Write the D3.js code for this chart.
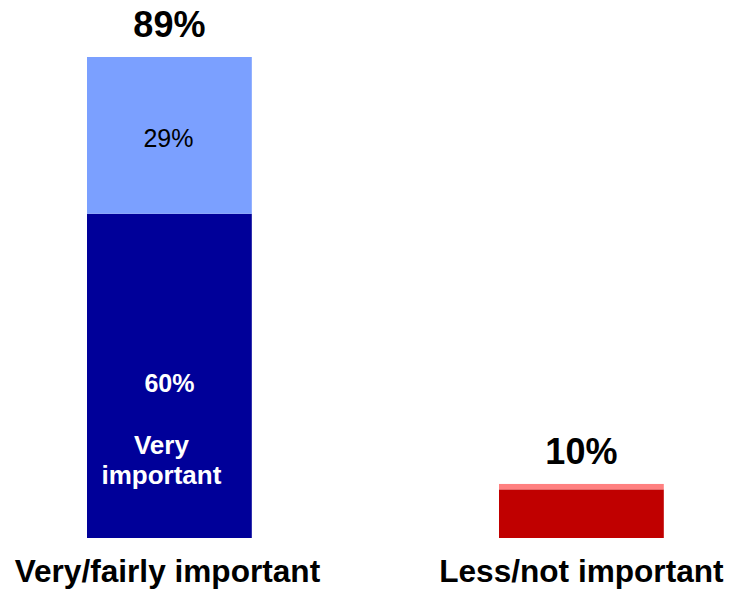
<!DOCTYPE html>
<html>
<head>
<meta charset="utf-8">
<script src="https://cdn.jsdelivr.net/npm/d3@7"></script>
<style>
  body { margin: 0; background: #fff; }
  svg { display: block; font-family: "Liberation Sans", Arial, sans-serif; }
</style>
</head>
<body>
<div class="container"></div>
<script>
// data
let categories = ["Very/fairly important", "Less/not important"];
let mainValues = [60, 9];   // very important / not at all
let restValues = [29, 1];   // fairly important / less important
let totals = [89, 10];
let mainColors = ["#000099", "#C00000"];
let restColors = ["#7BA0FF", "#FF8080"];

let width = 730, height = 595;

let svg = d3.select(".container")
    .append("svg")
    .attr("width", width)
    .attr("height", height);

let x = d3.scaleBand()
    .domain(categories)
    .range([-36.6, 787.4])
    .paddingInner(0.6)
    .paddingOuter(0.3);

let y = d3.scaleLinear()
    .domain([0, 89])
    .range([538, 57]);

// lower segment
svg.selectAll("rect.main")
    .data(categories)
    .enter().append("rect")
    .attr("class", "main")
    .attr("x", d => x(d))
    .attr("width", x.bandwidth())
    .attr("y", (d, i) => y(mainValues[i]))
    .attr("height", (d, i) => y(0) - y(mainValues[i]))
    .attr("fill", (d, i) => mainColors[i]);

// upper segment
svg.selectAll("rect.rest")
    .data(categories)
    .enter().append("rect")
    .attr("class", "rest")
    .attr("x", d => x(d))
    .attr("width", x.bandwidth())
    .attr("y", (d, i) => y(mainValues[i] + restValues[i]))
    .attr("height", (d, i) => y(mainValues[i]) - y(mainValues[i] + restValues[i]))
    .attr("fill", (d, i) => restColors[i]);

let cx = d => x(d) + x.bandwidth() / 2;

// totals above bars
svg.selectAll("text.total")
    .data(categories)
    .enter().append("text")
    .attr("class", "total")
    .attr("x", cx)
    .attr("y", (d, i) => y(totals[i]) - 20)
    .attr("text-anchor", "middle")
    .attr("font-size", 36)
    .attr("font-weight", "bold")
    .text((d, i) => totals[i] + "%");

// category labels
svg.selectAll("text.cat")
    .data(categories)
    .enter().append("text")
    .attr("class", "cat")
    .attr("x", (d, i) => cx(d) - (i === 0 ? 2 : 0))
    .attr("y", y(0) + 44)
    .attr("text-anchor", "middle")
    .attr("font-size", 31.6)
    .attr("font-weight", "bold")
    .text(d => d);

// segment labels in first bar
let first = categories[0];
svg.append("text")
    .attr("x", cx(first) - 1)
    .attr("y", (y(mainValues[0]) + y(totals[0])) / 2 + 12)
    .attr("text-anchor", "middle")
    .attr("font-size", 25)
    .text(restValues[0] + "%");

svg.append("text")
    .attr("x", cx(first))
    .attr("y", y(mainValues[0]) + 178)
    .attr("text-anchor", "middle")
    .attr("font-size", 25)
    .attr("font-weight", "bold")
    .attr("fill", "#fff")
    .text(mainValues[0] + "%");

let note = svg.append("text")
    .attr("x", cx(first) - 8)
    .attr("y", y(mainValues[0]) + 240)
    .attr("text-anchor", "middle")
    .attr("font-size", 26)
    .attr("font-weight", "bold")
    .attr("fill", "#fff");
note.append("tspan").attr("x", cx(first) - 8).text("Very");
note.append("tspan").attr("x", cx(first) - 8).attr("dy", 30).text("important");
</script>
</body>
</html>
